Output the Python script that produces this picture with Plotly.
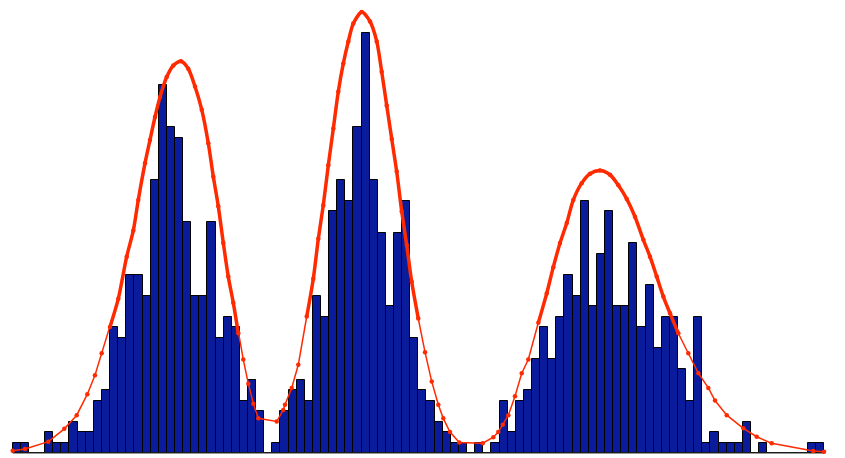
import plotly.graph_objects as go

# histogram: 100 unit-width bins, counts per bin
bin_edges = list(range(0, 101))
counts = [
    1, 1, 0, 0, 2, 1, 1, 3, 2, 2,
    5, 6, 12, 11, 17, 17, 15, 26, 35, 31,
    30, 22, 15, 15, 22, 11, 13, 12, 5, 7,
    4, 0, 1, 4, 6, 7, 5, 15, 13, 23,
    26, 24, 31, 40, 26, 21, 14, 21, 24, 11,
    6, 5, 3, 2, 1, 1, 0, 1, 0, 1,
    5, 2, 5, 6, 9, 12, 9, 13, 17, 15,
    24, 14, 19, 23, 14, 14, 20, 12, 16, 10,
    13, 13, 8, 5, 13, 1, 2, 1, 1, 1,
    3, 0, 1, 0, 0, 0, 0, 0, 1, 1,
]

# fitted mixture curve (bin units, count units)
fit_x = [
    0.0, 1.52, 4.39, 6.36, 7.89, 9.20, 10.14, 10.97, 11.99, 13.02,
    14.05, 14.87, 15.48, 16.31, 16.92, 17.54, 18.16, 18.98, 19.80, 20.74,
    21.64, 22.47, 23.30, 24.11, 24.73, 25.34, 25.96, 26.57, 27.19, 27.81,
    28.42, 29.04, 29.66, 30.27, 32.54, 33.35, 33.56, 34.39, 35.20, 36.24,
    37.05, 37.67, 38.28, 38.90, 39.52, 40.13, 40.75, 41.37, 41.98, 43.02,
    44.04, 44.87, 45.48, 46.10, 46.72, 47.33, 47.95, 48.56, 49.18, 49.99,
    50.82, 51.65, 52.46, 53.07, 53.90, 55.05, 57.93, 59.24, 59.85, 60.40,
    61.09, 61.91, 62.74, 63.55, 64.79, 65.82, 66.63, 67.46, 68.29, 69.10,
    70.13, 71.16, 72.39, 73.62, 74.65, 75.68, 76.70, 77.73, 78.55, 79.38,
    80.19, 81.02, 82.04, 83.27, 84.51, 85.74, 86.56, 88.01, 90.05, 91.70,
    93.55, 98.68, 100.0,
]
fit_y = [
    0.22, 0.38, 1.08, 2.3, 3.6, 5.6, 7.4, 9.5, 12.0, 14.7,
    18.7, 21.2, 24.1, 27.6, 29.8, 32.0, 33.9, 35.8, 36.9, 37.3,
    36.6, 34.9, 32.7, 29.5, 26.3, 23.5, 20.0, 16.8, 14.3, 11.4,
    8.9, 6.6, 4.7, 3.3, 3.0, 4.1, 4.6, 6.2, 8.4, 13.0,
    16.6, 20.4, 23.6, 27.4, 30.9, 34.4, 37.1, 39.2, 40.9, 42.0,
    41.1, 39.2, 36.3, 33.1, 29.9, 26.8, 23.0, 19.8, 16.3, 12.8,
    9.6, 6.8, 4.6, 3.3, 2.0, 1.0, 0.93, 1.5, 2.0, 2.7,
    3.6, 5.4, 7.6, 8.9, 12.4, 15.2, 17.7, 20.0, 21.9, 24.1,
    25.7, 26.6, 26.9, 26.5, 25.5, 24.2, 22.5, 20.3, 18.7, 16.8,
    14.9, 13.3, 11.4, 9.5, 7.6, 6.2, 5.0, 3.6, 2.35, 1.55,
    0.92, 0.19, 0.12,
]

centers = [(a + b) / 2 for a, b in zip(bin_edges[:-1], bin_edges[1:])]

fig = go.Figure()

fig.add_trace(go.Bar(
    x=centers,
    y=counts,
    width=1,
    marker=dict(color='#0a1c9c', line=dict(color='black', width=1)),
    showlegend=False,
))

# baseline under the bins
fig.add_trace(go.Scatter(
    x=[bin_edges[0], bin_edges[-1]],
    y=[0, 0],
    mode='lines',
    line=dict(color='#333333', width=1),
    showlegend=False,
))

fig.add_trace(go.Scatter(
    x=fit_x,
    y=fit_y,
    mode='lines+markers',
    line=dict(color='#ff2a00', width=1.5),
    marker=dict(color='#ff2a00', size=4.5),
    showlegend=False,
))

# samples are dense near the peaks, so the curve looks heavier there
heavy_y = [y if y >= 10 else None for y in fit_y]
fig.add_trace(go.Scatter(
    x=fit_x,
    y=heavy_y,
    mode='lines',
    line=dict(color='#ff2a00', width=3.5, shape='spline', smoothing=0.8),
    connectgaps=False,
    showlegend=False,
))

# page body has an 8px margin, ranges are shifted to compensate
fig.update_layout(
    width=845,
    height=458,
    margin=dict(l=0, r=0, t=0, b=0),
    plot_bgcolor='white',
    paper_bgcolor='white',
    bargap=0,
    xaxis=dict(range=[-0.579, 103.57], visible=False),
    yaxis=dict(range=[-1.238, 42.38], visible=False),
)

fig.write_html("out.html")
